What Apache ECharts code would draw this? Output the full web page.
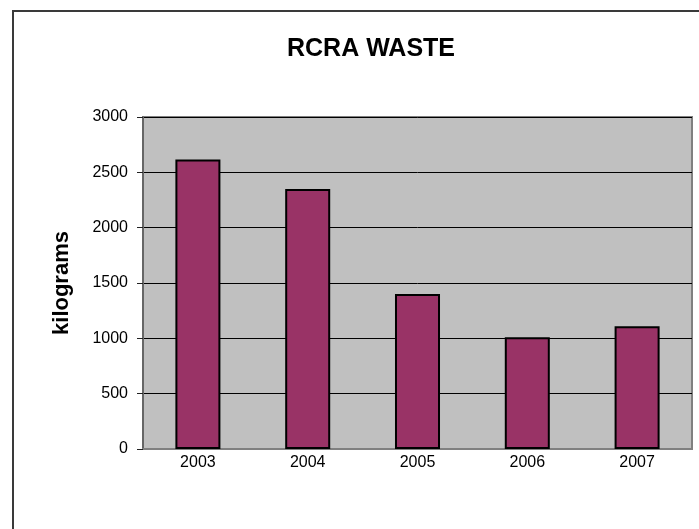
<!DOCTYPE html>
<html>
<head>
<meta charset="utf-8">
<script src="https://cdn.jsdelivr.net/npm/echarts@6/dist/echarts.min.js"></script>
<style>
html,body{margin:0;padding:0;background:#fff;}
#chart{width:699px;height:529px;}
</style>
</head>
<body>
<div id="chart"></div>
<script>
var categories = ['2003', '2004', '2005', '2006', '2007'];
var wasteKg = [2615, 2350, 1400, 1010, 1110];
var yTicks = [0, 500, 1000, 1500, 2000, 2500, 3000];
var chartTitle = 'RCRA WASTE';
var yAxisName = 'kilograms';

var chart = echarts.init(document.getElementById('chart'), null, {renderer: 'canvas'});
chart.setOption({
  backgroundColor: '#ffffff',
  animation: false,
  title: {
    text: chartTitle,
    left: 366,
    top: 32,
    textAlign: 'center',
    textStyle: {fontFamily: 'Liberation Sans, Arial, sans-serif', fontSize: 25, fontWeight: 'bold', color: '#000'}
  },
  graphic: [{
    type: 'rect',
    shape: {x: 13, y: 11, width: 720, height: 540},
    style: {fill: 'none', stroke: '#3a3a3a', lineWidth: 2},
    silent: true
  }],
  grid: {
    left: 143, right: 7, top: 117, bottom: 80,
    show: true,
    backgroundColor: '#C0C0C0',
    borderColor: '#808080',
    borderWidth: 2
  },
  xAxis: {
    type: 'category',
    data: categories,
    axisLine: {show: true, lineStyle: {color: '#808080', width: 2}},
    axisTick: {show: false},
    axisLabel: {margin: 6, fontFamily: 'Liberation Sans, Arial, sans-serif', fontSize: 16, color: '#000'},
    splitLine: {show: false}
  },
  yAxis: {
    type: 'value',
    min: yTicks[0],
    max: yTicks[yTicks.length - 1],
    interval: yTicks[1] - yTicks[0],
    name: yAxisName,
    nameLocation: 'middle',
    nameRotate: 90,
    nameGap: 70,
    nameTextStyle: {fontFamily: 'Liberation Sans, Arial, sans-serif', fontSize: 22, fontWeight: 'bold', color: '#000'},
    axisLine: {show: true, lineStyle: {color: '#666', width: 2}},
    axisTick: {show: true, length: 6, lineStyle: {color: '#222', width: 1}},
    axisLabel: {margin: 15, fontFamily: 'Liberation Sans, Arial, sans-serif', fontSize: 16, color: '#000',
      formatter: function (v) { return String(v); }},
    splitLine: {show: true, lineStyle: {color: '#000', width: 1}}
  },
  series: [{
    type: 'bar',
    data: wasteKg,
    barWidth: '41%',
    itemStyle: {color: '#993366', borderColor: '#000', borderWidth: 2}
  }]
});
</script>
</body>
</html>
